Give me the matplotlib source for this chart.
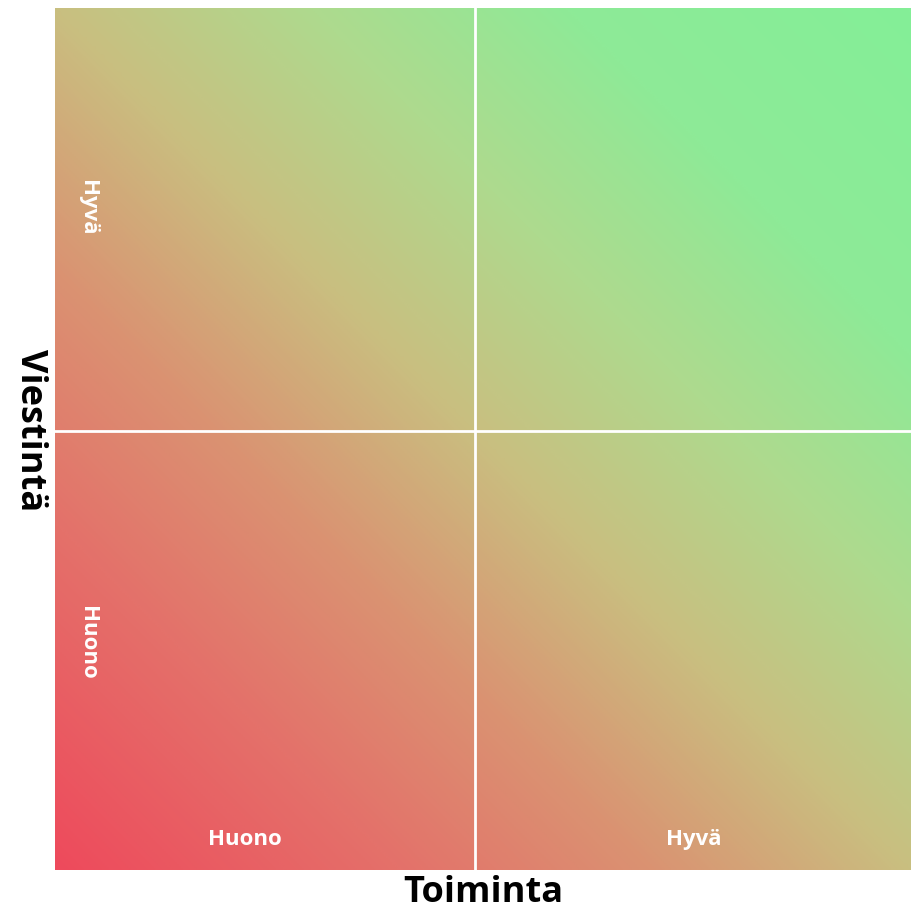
import numpy as np
import matplotlib.pyplot as plt
from matplotlib.colors import LinearSegmentedColormap

# Quadrant labels
x_labels = ['Huono', 'Hyvä']
y_labels = ['Huono', 'Hyvä']
x_title = 'Toiminta'
y_title = 'Viestintä'

# Divider positions (axes fraction)
x_split = 0.49
y_split = 0.509

# Gradient colour stops, bad (bottom-left) -> good (top-right)
grad_stops = [0.0, 0.2, 0.35, 0.5, 0.65, 0.8, 1.0]
grad_colors = ['#EE4A5C', '#E4716A', '#DA9372', '#C9BF80', '#AEDA8E', '#8EEA97', '#84EF98']

plt.rcParams['font.family'] = ['Open Sans', 'DejaVu Sans']

fig = plt.figure(figsize=(9.12, 9.13), dpi=100)
ax = fig.add_axes([55 / 912, 43 / 913, 1 - 55 / 912, 862 / 913])

cmap = LinearSegmentedColormap.from_list('quad', list(zip(grad_stops, grad_colors)))
gx, gy = np.meshgrid(np.linspace(0, 1, 400), np.linspace(0, 1, 400))
ax.imshow((gx + gy) / 2, cmap=cmap, vmin=0, vmax=1, origin='lower',
          extent=[0, 1, 0, 1], aspect='auto', interpolation='bilinear')

ax.axvline(x_split, color='white', lw=2)
ax.axhline(y_split, color='white', lw=2)

ax.set_xlim(0, 1)
ax.set_ylim(0, 1)
ax.set_xticks([])
ax.set_yticks([])
for s in ax.spines.values():
    s.set_visible(False)

# quadrant labels along the bottom
ax.text(0.222, 0.035, x_labels[0], color='white', fontsize=16, fontweight='bold',
        ha='center', va='center')
ax.text(0.745, 0.035, x_labels[1], color='white', fontsize=16, fontweight='bold',
        ha='center', va='center')
# quadrant labels along the left side
ax.text(0.038, 0.264, y_labels[0], color='white', fontsize=16, fontweight='bold',
        ha='center', va='center', rotation=-90)
ax.text(0.038, 0.768, y_labels[1], color='white', fontsize=16, fontweight='bold',
        ha='center', va='center', rotation=-90)

fig.text(483 / 912, 1 - 893 / 913, x_title, fontsize=26, fontweight='bold',
         ha='center', va='center')
fig.text(30 / 912, 1 - 430 / 913, y_title, fontsize=26, fontweight='bold',
         ha='center', va='center', rotation=-90)

fig.savefig('out.png', dpi=100)
